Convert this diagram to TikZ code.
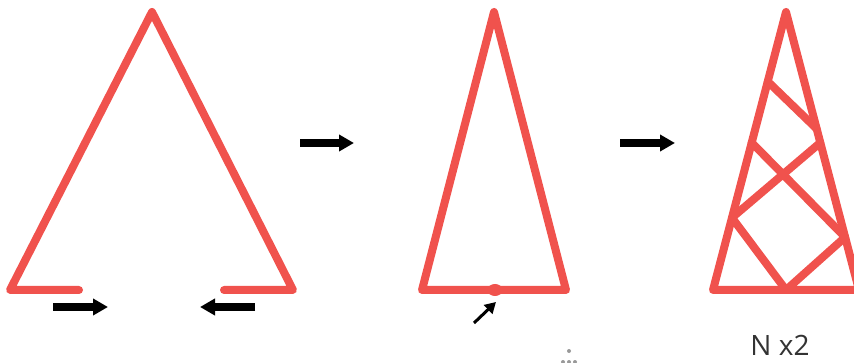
\documentclass[tikz,border=0pt]{standalone}
\usepackage{fontspec}
\setmainfont{Open Sans}
\usetikzlibrary{arrows.meta,calc}
\definecolor{tred}{HTML}{F0524D}
\definecolor{tgray}{HTML}{333333}
\definecolor{fgray}{HTML}{999999}
\tikzset{
  redline/.style={line width=8pt, draw=tred, line cap=round, line join=round},
  blockarrow/.style={line width=8pt, draw=black, line cap=butt, -{Triangle[length=15pt,width=16pt]}},
  thinarrow/.style={line width=3pt, draw=black, -{Triangle[length=11pt,width=12pt]}},
}
\begin{document}
\begin{tikzpicture}[x=1pt,y=-1pt]
\useasboundingbox (0,0) rectangle (854,363);
\clip (0,0) rectangle (854,363);
% triangle 1
\coordinate (a1) at (152,12);
\coordinate (l1) at (10,290);
\coordinate (r1) at (293,290);
\coordinate (le1) at (79,290);
\coordinate (re1) at (224,290);
\draw[redline] (le1) -- (l1) -- (a1) -- (r1) -- (re1);
% arrows under triangle 1
\coordinate (p1) at (53,307);
\coordinate (q1) at (108,307);
\coordinate (p2) at (255,307);
\coordinate (q2) at (200,307);
\draw[blockarrow] (p1) -- (q1);
\draw[blockarrow] (p2) -- (q2);
% middle arrows
\coordinate (m1s) at (300,143);
\coordinate (m1e) at (354,143);
\coordinate (m2s) at (620,143);
\coordinate (m2e) at (675,143);
\draw[blockarrow] (m1s) -- (m1e);
\draw[blockarrow] (m2s) -- (m2e);
% triangle 2
\coordinate (a2) at (494,12);
\coordinate (l2) at (422,290);
\coordinate (r2) at (566,290);
\coordinate (b2) at (495,290);
\draw[redline] (l2) -- (a2) -- (r2) -- cycle;
\fill[tred] (b2) ellipse [x radius=7.5pt, y radius=6pt];
\coordinate (s2) at (474,323);
\coordinate (e2) at (496,302);
\draw[thinarrow] (s2) -- (e2);
% triangle 3
\coordinate (a3) at (786,12);
\coordinate (l3) at (713,290);
\coordinate (r3) at (859,290);
\coordinate (bm) at (786,290);
\draw[redline] (l3) -- (a3) -- (r3) -- cycle;
\coordinate (L1) at ($(a3)!0.25!(l3)$);
\coordinate (R1) at ($(a3)!0.42!(r3)$);
\coordinate (L2) at ($(a3)!0.47!(l3)$);
\coordinate (R2) at ($(a3)!0.81!(r3)$);
\coordinate (R3) at ($(a3)!0.47!(r3)$);
\coordinate (L3) at ($(a3)!0.74!(l3)$);
\draw[redline] (L1) -- (R1);
\draw[redline] (L2) -- (R2);
\draw[redline] (R3) -- (L3);
\draw[redline] (L3) -- (bm) -- (R2);
\node[font=\fontsize{28}{30}\selectfont, text=tgray, anchor=base, inner sep=0pt] (lab) at (780,355) {N x2};
% faint marks
\fill[fgray] (569,351) circle (2pt);
\fill[fgray] (563,362) circle (2pt);
\fill[fgray] (569,362) circle (2pt);
\fill[fgray] (575,362) circle (2pt);
\end{tikzpicture}
\end{document}
